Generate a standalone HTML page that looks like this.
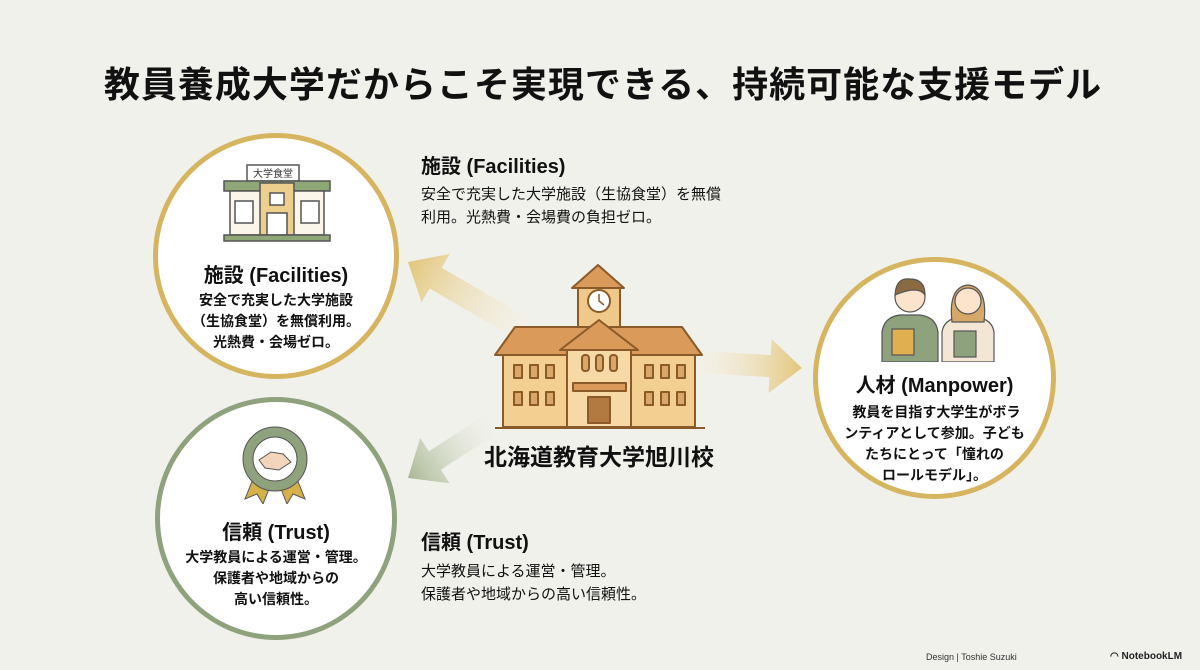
<!DOCTYPE html>
<html><head><meta charset="utf-8"><style>
body{margin:0;width:1200px;height:670px;background:#f1f1ec;position:relative;overflow:hidden;font-family:"Liberation Sans","Noto Sans CJK JP",sans-serif;color:#111}
.t{position:absolute;white-space:nowrap}
.c{position:absolute;border-radius:50%;background:#fff;box-sizing:border-box}
.ct{position:absolute;left:0;right:0;text-align:center;font-weight:bold}
</style></head><body>
<div class="t" style="left:6px;right:0;top:56px;text-align:center;font-size:36px;font-weight:bold;letter-spacing:1px">教員養成大学だからこそ実現できる、持続可能な支援モデル</div>

<svg width="1200" height="670" style="position:absolute;left:0;top:0">
<defs>
<linearGradient id="g1" x1="0" y1="0" x2="1" y2="0"><stop offset="0" stop-color="#f6efdc" stop-opacity="0.2"/><stop offset="1" stop-color="#e2c67a"/></linearGradient>
<linearGradient id="g3" x1="0" y1="0" x2="1" y2="0"><stop offset="0" stop-color="#eef0e6" stop-opacity="0.2"/><stop offset="1" stop-color="#a9b894"/></linearGradient>
</defs>
<g transform="translate(408,262) rotate(210.2)"><polygon points="-135,-12 -32,-12 -32,-28 0,0 -32,28 -32,12 -135,12" fill="url(#g1)" transform="scale(-1,1) rotate(180)"/></g>
<g transform="translate(802,368) rotate(3.4)"><polygon points="-105,-11 -32,-11 -32,-27 0,0 -32,27 -32,11 -105,11" fill="url(#g1)"/></g>
<g transform="translate(408,478) rotate(147)"><polygon points="-100,-11 -32,-11 -32,-27 0,0 -32,27 -32,11 -100,11" fill="url(#g3)"/></g>
<g stroke="#8a5a28" stroke-width="2" stroke-linejoin="round">
<polygon points="572,288 598,265 624,288" fill="#d99a5a"/>
<rect x="578" y="288" width="42" height="40" fill="#f0c98a"/>
<circle cx="599" cy="301" r="11" fill="#fff"/>
<path d="M599 294 V301 L604 305" fill="none" stroke-width="1.5"/>
<polygon points="495,355 515,327 682,327 702,355" fill="#d99a5a"/>
<rect x="503" y="355" width="192" height="72" fill="#f3cf92"/>
<polygon points="560,350 599,320 638,350" fill="#d99a5a"/>
<rect x="567" y="350" width="64" height="77" fill="#f6d9a4"/>
<rect x="514" y="365" width="8" height="13" fill="#d9a868"/><rect x="530" y="365" width="8" height="13" fill="#d9a868"/><rect x="546" y="365" width="8" height="13" fill="#d9a868"/>
<rect x="514" y="392" width="8" height="13" fill="#d9a868"/><rect x="530" y="392" width="8" height="13" fill="#d9a868"/><rect x="546" y="392" width="8" height="13" fill="#d9a868"/>
<rect x="645" y="365" width="8" height="13" fill="#d9a868"/><rect x="661" y="365" width="8" height="13" fill="#d9a868"/><rect x="677" y="365" width="8" height="13" fill="#d9a868"/>
<rect x="645" y="392" width="8" height="13" fill="#d9a868"/><rect x="661" y="392" width="8" height="13" fill="#d9a868"/><rect x="677" y="392" width="8" height="13" fill="#d9a868"/>
<rect x="582" y="355" width="7" height="16" rx="3" fill="#d9a868"/><rect x="596" y="355" width="7" height="16" rx="3" fill="#d9a868"/><rect x="610" y="355" width="7" height="16" rx="3" fill="#d9a868"/>
<rect x="573" y="383" width="53" height="8" fill="#d99a5a"/>
<rect x="588" y="397" width="22" height="26" fill="#b07a40"/>
<line x1="495" y1="428" x2="705" y2="428"/>
</g>
</svg>
<div class="t" style="left:484px;top:438px;font-size:23px;font-weight:bold">北海道教育大学旭川校</div>

<div class="t" style="left:421px;top:150px;font-size:20px;font-weight:bold">施設 (Facilities)</div>
<div class="t" style="left:421px;top:183px;font-size:15px;line-height:23px">安全で充実した大学施設（生協食堂）を無償<br>利用。光熱費・会場費の負担ゼロ。</div>
<div class="t" style="left:421px;top:526px;font-size:20px;font-weight:bold">信頼 (Trust)</div>
<div class="t" style="left:421px;top:560px;font-size:15px;line-height:23px">大学教員による運営・管理。<br>保護者や地域からの高い信頼性。</div>

<div class="c" style="left:153px;top:133px;width:246px;height:246px;border:5px solid #d6b560">
 <svg width="110" height="80" style="position:absolute;left:64px;top:25px" stroke="#555" stroke-width="1.5">
  <rect x="25" y="2" width="52" height="16" fill="#fff"/>
  <text x="51" y="14" font-size="10" text-anchor="middle" stroke="none" fill="#333" font-family="Noto Sans CJK JP">大学食堂</text>
  <rect x="2" y="18" width="106" height="10" fill="#8fa676"/>
  <rect x="8" y="28" width="94" height="44" fill="#fbf6ea"/>
  <rect x="38" y="20" width="34" height="52" fill="#eccf8d"/>
  <rect x="13" y="38" width="18" height="22" fill="#fff"/><rect x="79" y="38" width="18" height="22" fill="#fff"/>
  <rect x="48" y="30" width="14" height="12" fill="#fff"/><rect x="45" y="50" width="20" height="22" fill="#fff"/>
  <rect x="2" y="72" width="106" height="6" fill="#8fa676"/>
 </svg>
 <div class="ct" style="top:121px;font-size:20px">施設 (Facilities)</div>
 <div class="ct" style="top:152px;font-size:14px;line-height:21px">安全で充実した大学施設<br>（生協食堂）を無償利用。<br>光熱費・会場ゼロ。</div>
</div>

<div class="c" style="left:155px;top:397px;width:242px;height:243px;border:5px solid #8ea27d">
 <svg width="80" height="80" style="position:absolute;left:75px;top:22px">
  <polygon points="18,55 10,75 22,70 28,80 36,60" fill="#d6b04a" stroke="#555"/>
  <polygon points="62,55 70,75 58,70 52,80 44,60" fill="#d6b04a" stroke="#555"/>
  <circle cx="40" cy="35" r="32" fill="#8ea27d" stroke="#555"/>
  <circle cx="40" cy="35" r="22" fill="#fff" stroke="#555"/>
  <path d="M24 36 L36 28 L48 30 L56 38 L44 46 L30 44 Z" fill="#f3d5bb" stroke="#555"/>
 </svg>
 <div class="ct" style="top:114px;font-size:20px">信頼 (Trust)</div>
 <div class="ct" style="top:145px;font-size:14px;line-height:21px">大学教員による運営・管理。<br>保護者や地域からの<br>高い信頼性。</div>
</div>

<div class="c" style="left:813px;top:257px;width:243px;height:242px;border:5px solid #d6b560">
 <svg width="120" height="95" style="position:absolute;left:62px;top:5px" stroke="#555" stroke-width="1.2">
  <path d="M2 95 V65 Q4 50 20 48 H40 Q56 50 58 65 V95 Z" fill="#8ea27d"/>
  <circle cx="30" cy="30" r="15" fill="#fbe3cc"/>
  <path d="M15 28 Q16 10 30 12 Q45 12 45 28 Q38 18 15 28Z" fill="#8a6a40"/>
  <rect x="12" y="62" width="22" height="26" fill="#e0b050"/>
  <path d="M62 95 V65 Q64 52 80 50 H96 Q112 52 114 65 V95 Z" fill="#f3e6d4"/>
  <path d="M72 55 Q68 20 88 18 Q108 20 104 55 Z" fill="#d6a86a"/>
  <circle cx="88" cy="34" r="13" fill="#fbe3cc"/>
  <rect x="74" y="64" width="22" height="26" fill="#8ea27d"/>
 </svg>
 <div class="ct" style="top:107px;font-size:20px">人材 (Manpower)</div>
 <div class="ct" style="top:140px;font-size:14px;line-height:21px">&nbsp;教員を目指す大学生がボラ<br>ンティアとして参加。子ども<br>たちにとって「憧れの<br>ロールモデル」。</div>
</div>

<div class="t" style="left:926px;top:652px;font-size:9px;color:#333">Design | Toshie Suzuki</div>
<div class="t" style="left:1110px;top:651px;font-size:10px;font-weight:bold;color:#222">◠ NotebookLM</div>
</body></html>
